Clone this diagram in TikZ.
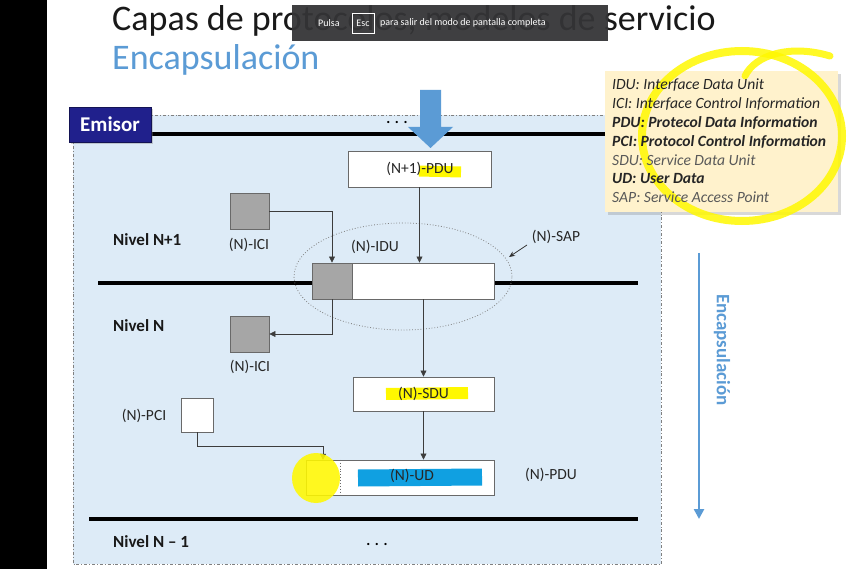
\documentclass[tikz,border=0pt]{standalone}
\usepackage{fontspec}
\setmainfont{Carlito}
\usetikzlibrary{arrows.meta,shadows}
\definecolor{skyfill}{RGB}{221,235,247}
\definecolor{accent}{RGB}{91,155,213}
\definecolor{navy}{RGB}{32,32,140}
\definecolor{legendfill}{RGB}{255,242,204}
\definecolor{hlyellow}{RGB}{255,248,0}
\definecolor{hlcyan}{RGB}{16,160,225}
\definecolor{boxgray}{RGB}{166,166,166}
\definecolor{edgegray}{RGB}{105,105,105}
\definecolor{linkgray}{RGB}{60,60,60}
\definecolor{overlaygray}{RGB}{52,52,54}
\begin{document}
\begin{tikzpicture}[x=1pt,y=-1pt,
  unitbox/.style={draw=edgegray,line width=0.9pt,fill=white,inner sep=0pt},
  grayfill/.style={draw=edgegray,line width=0.9pt,fill=boxgray,inner sep=0pt},
  lbl/.style={font=\fontsize{15.5}{18}\selectfont,text=black!85,inner sep=1pt},
  lvl/.style={font=\bfseries\fontsize{17}{20}\selectfont,text=black!90,anchor=west,inner sep=0pt},
  link/.style={draw=linkgray,line width=0.7pt,-{Triangle[length=6pt,width=6pt]}},
  layerline/.style={draw=black,line width=3.5pt},
  dots/.style={font=\bfseries\fontsize{15}{18}\selectfont,inner sep=0pt},
  legline/.style={anchor=base west,inner sep=0pt,font=\fontsize{15.6}{18}\selectfont\itshape,text=black!85}]
\useasboundingbox (0,0) rectangle (848,569);
\fill[white] (0,0) rectangle (848,569);
\fill[black] (0,0) rectangle (47,569);

% titles
\node[anchor=base west,inner sep=0pt,font=\fontsize{36}{40}\selectfont,text=black!90] (title) at (112,31) {Capas de protocolos, modelos de servicio};
\node[anchor=base west,inner sep=0pt,font=\fontsize{36}{40}\selectfont,text=accent] (subtitle) at (112,70) {Encapsulación};

% fullscreen overlay
\node[fill=overlaygray,fill opacity=0.94,minimum width=316pt,minimum height=36pt,inner sep=0pt] (overlay) at (450,23) {};
\node[text=white,font=\fontsize{10}{12}\selectfont,anchor=west,inner sep=0pt] (pulsa) at (318,23) {Pulsa};
\node[draw=white!80,line width=0.6pt,text=white,font=\fontsize{10}{12}\selectfont,minimum width=22pt,minimum height=20pt,inner sep=0pt] (esckey) at (363,23) {Esc};
\node[text=white,font=\fontsize{10}{12}\selectfont,anchor=west,inner sep=0pt] (overlaytxt) at (380,23) {para salir del modo de pantalla completa};

% emitter area
\draw[fill=skyfill,draw=gray,line width=0.8pt,dash dot] (73,115) rectangle (661,564);

% layer lines
\coordinate (topL) at (151,134); \coordinate (topR) at (638,134);
\coordinate (midL) at (98,283); \coordinate (midR) at (638,283);
\coordinate (botL) at (89,519); \coordinate (botR) at (638,519);
\draw[layerline] (topL) -- (topR);
\draw[layerline] (midL) -- (midR);
\draw[layerline] (botL) -- (botR);

% boxes
\node[unitbox,minimum width=143pt,minimum height=36pt] (pdu1) at (419.5,169) {};
\node[grayfill,minimum width=39pt,minimum height=36pt] (icitop) at (249.5,211) {};
\node[unitbox,minimum width=182pt,minimum height=36pt] (idu) at (403,281) {};
\node[grayfill,minimum width=40pt,minimum height=36pt] (idugray) at (332,281) {};
\node[grayfill,minimum width=39pt,minimum height=36pt] (icilow) at (249.5,334) {};
\node[unitbox,minimum width=141pt,minimum height=34pt] (sdu) at (423.5,394) {};
\node[unitbox,minimum width=32pt,minimum height=34pt] (pcibox) at (197,415) {};
\node[unitbox,minimum width=188pt,minimum height=35pt] (ud) at (400,477.5) {};
\node[minimum width=34pt,minimum height=35pt,inner sep=0pt] (udpci) at (323,477.5) {};
\draw[edgegray,line width=0.9pt,dotted] (udpci.north east) -- (udpci.south east);

% SAP ellipse
\draw[gray,line width=0.8pt,dotted] (403,276.5) ellipse [x radius=109pt,y radius=53.5pt];

% connectors
\draw[link] (pdu1.south) -- (pdu1.south |- idu.north);
\draw[link] (icitop.east) -| (idugray.north);
\draw[link] (idugray.south) |- (icilow.east);
\draw[link] (sdu.north |- idu.south) -- (sdu.north);
\draw[link] (sdu.south) -- (sdu.south |- ud.north);
\draw[link] (pcibox.south) -- ++(0,14) -| (udpci.north);

% highlights
\draw[hlyellow,line width=11pt] (419,171) -- (461,172);
\draw[hlyellow,line width=12pt] (386,394) -- (468,393);
\draw[hlcyan,line width=17pt] (358,478) -- (482,477);
\fill[hlyellow,opacity=0.88] (316,478) ellipse [x radius=24pt,y radius=25pt];

% labels
\node[lbl] (pdu1txt) at (420,169) {(N+1)-PDU};
\node[lbl] (sdutxt) at (423.5,394) {(N)-SDU};
\node[lbl] (udtxt) at (412,476) {(N)-UD};
\node[lbl] (icitoplbl) at (249,245) {(N)-ICI};
\node[lbl] (icilowlbl) at (250,367) {(N)-ICI};
\node[lbl] (pcilbl) at (144,416) {(N)-PCI};
\node[lbl] (idulbl) at (375,247) {(N)-IDU};
\node[lbl] (saplbl) at (556,237) {(N)-SAP};
\node[lbl] (pdunlbl) at (551,475) {(N)-PDU};
\coordinate (sapFrom) at (527,245);
\coordinate (sapTip) at (509,257);
\draw[draw=black!80,line width=0.8pt,-{Stealth[length=6pt,width=5pt]}] (sapFrom) -- (sapTip);

\node[lvl] (lvlA) at (113,240) {Nivel N+1};
\node[lvl] (lvlB) at (113,326) {Nivel N};
\node[lvl] (lvlC) at (113,542) {Nivel N -- 1};
\node[dots] (dotsTop) at (397,122) {. . .};
\node[dots] (dotsBot) at (377,544) {. . .};

% big input arrow
\fill[accent] (420,90) -- (441,90) -- (441,127) -- (453,127) -- (430.5,148) -- (408,127) -- (420,127) -- cycle;

% emitter tag
\node[fill=navy,draw=navy!60!black,line width=0.6pt,text=white,font=\bfseries\fontsize{21}{24}\selectfont,minimum width=82pt,minimum height=35pt,inner sep=0pt,drop shadow={opacity=0.35,shadow xshift=2pt,shadow yshift=-2pt}] (emisor) at (110,124.5) {Emisor};

% legend
\node[fill=legendfill,minimum width=233pt,minimum height=141pt,inner sep=0pt,drop shadow={opacity=0.3,shadow xshift=3pt,shadow yshift=-3pt}] (legend) at (721.5,141.5) {};
\draw[hlyellow,opacity=0.85,line width=8pt] (742,136) ellipse [x radius=100pt,y radius=85pt];
\draw[hlyellow,opacity=0.85,line width=7pt,line cap=round] (745,76) .. controls (755,55) and (790,44) .. (830,56);
\node[legline] (legA) at (612,90) {IDU: Interface Data Unit};
\node[legline] (legB) at (612,109) {ICI: Interface Control Information};
\node[legline,font=\fontsize{15.6}{18}\selectfont\itshape\bfseries] (legC) at (612,128) {PDU: Protecol Data Information};
\node[legline,font=\fontsize{15.6}{18}\selectfont\itshape\bfseries] (legD) at (612,147) {PCI: Protocol Control Information};
\node[legline,text=black!65] (legE) at (612,166) {SDU: Service Data Unit};
\node[legline,font=\fontsize{15.6}{18}\selectfont\itshape\bfseries] (legF) at (612,184) {UD: User Data};
\node[legline,text=black!65] (legG) at (612,203) {SAP: Service Access Point};

% encapsulation arrow
\coordinate (encTop) at (699,253);
\coordinate (encBot) at (699,519);
\draw[accent,line width=2.5pt,-{Triangle[length=10pt,width=10pt]}] (encTop) -- (encBot);
\node[rotate=-90,text=accent,font=\bfseries\fontsize{19}{22}\selectfont,inner sep=0pt] (enclbl) at (722,350) {Encapsulación};
\end{tikzpicture}
\end{document}
